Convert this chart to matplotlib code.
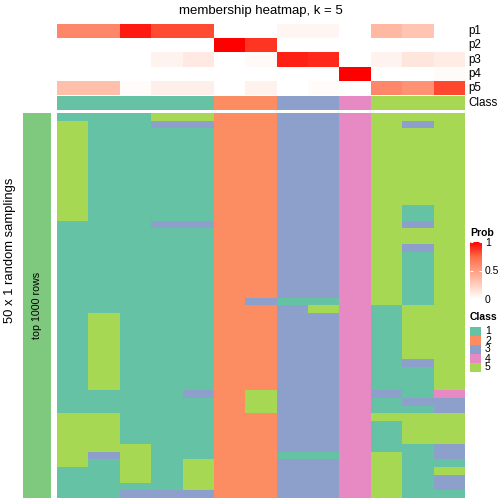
import numpy as np
import matplotlib
matplotlib.use("Agg")
import matplotlib.pyplot as plt
from matplotlib.colors import ListedColormap, LinearSegmentedColormap

plt.rcParams['font.family'] = ['Liberation Sans', 'DejaVu Sans']

# membership probabilities per sample (13 samples)
p1 = [0.60, 0.60, 0.93, 0.82, 0.82, 0.00, 0.00, 0.05, 0.05, 0.00, 0.36, 0.30, 0.00]
p2 = [0.00, 0.00, 0.00, 0.00, 0.00, 1.00, 0.87, 0.00, 0.00, 0.00, 0.00, 0.00, 0.00]
p3 = [0.00, 0.00, 0.00, 0.06, 0.11, 0.00, 0.03, 0.92, 0.90, 0.00, 0.06, 0.13, 0.10]
p4 = [0.00, 0.00, 0.00, 0.00, 0.00, 0.00, 0.00, 0.00, 0.00, 1.00, 0.00, 0.00, 0.02]
p5 = [0.33, 0.33, 0.02, 0.08, 0.08, 0.00, 0.07, 0.00, 0.02, 0.00, 0.60, 0.55, 0.83]
prob_labels = ["p1", "p2", "p3", "p4", "p5"]

# consensus class of each sample
consensus = [1, 1, 1, 1, 1, 2, 2, 3, 3, 4, 5, 5, 5]

# class assigned in each of the 50 random samplings (one string per row)
samplings = [
    "1115522334555",
    "5113322334535",
    "5111122334555", "5111122334555", "5111122334555", "5111122334555", "5111122334555",
    "5111122334555", "5111122334555", "5111122334555", "5111122334555", "5111122334555",
    "5111122334515", "5111122334515",
    "1113322334535",
    "1111122334555", "1111122334555",
    "1111122334535",
    "1111122334515", "1111122334515", "1111122334515", "1111122334515", "1111122334515",
    "1111122334515",
    "1111123114515",
    "1111122354155",
    "1511122334155", "1511122334155", "1511122334155", "1511122334155", "1511122334155",
    "1511122334155",
    "1511122334135",
    "1511122334115", "1511122334115", "1511122334115",
    "1111325334314",
    "1111125334133",
    "1111125334113",
    "5511122334555",
    "5511122334155", "5511122334155", "5511122334155",
    "5551122334113",
    "5351122114513",
    "5151522334511",
    "1151522334515",
    "1151522334513",
    "1111522334513",
    "1133322334511",
]

class_names = ["1", "2", "3", "4", "5"]
class_colors = ["#66C2A5", "#FC8D62", "#8DA0CB", "#E78AC3", "#A6D854"]

W, H = 504, 504
fig = plt.figure(figsize=(W / 100, H / 100), dpi=100)


def px_axes(x0, y0, x1, y1):
    ax = fig.add_axes([x0 / W, 1 - y1 / H, (x1 - x0) / W, (y1 - y0) / H])
    ax.set_xticks([])
    ax.set_yticks([])
    for s in ax.spines.values():
        s.set_visible(False)
    return ax


def px_text(x, y, s, **kw):
    fig.text(x / W, 1 - y / H, s, **kw)


prob_cmap = LinearSegmentedColormap.from_list(
    "prob", [(1, 1, 1), (1, 207 / 255, 190 / 255), (1, 157 / 255, 129 / 255),
             (1, 104 / 255, 70 / 255), (1, 0, 0)])
class_cmap = ListedColormap(class_colors)

x0, x1 = 57, 465

# probability rows
ax_p = px_axes(x0, 24, x1, 95)
ax_p.imshow(np.array([p1, p2, p3, p4, p5]), cmap=prob_cmap, vmin=0, vmax=1,
            aspect='auto', interpolation='nearest')
for i, lab in enumerate(prob_labels):
    px_text(468, 24 + 14.2 * (i + 0.5), lab, fontsize=8.4, va='center', ha='left')

# consensus class row
ax_c = px_axes(x0, 96, x1, 110)
ax_c.imshow(np.array([consensus]), cmap=class_cmap, vmin=0.5, vmax=5.5,
            aspect='auto', interpolation='nearest')
px_text(468, 103, "Class", fontsize=8.4, va='center', ha='left')

# main sampling heatmap
mat = np.array([[int(c) for c in row] for row in samplings])
ax_m = px_axes(x0, 113, x1, 498)
ax_m.imshow(mat, cmap=class_cmap, vmin=0.5, vmax=5.5,
            aspect='auto', interpolation='nearest')

# left annotation bar
ax_l = px_axes(23, 113, 51, 498)
ax_l.set_facecolor("#7FC97F")
ax_l.text(0.5, 0.5, "top 1000 rows", rotation=90, ha='center', va='center',
          fontsize=7.7, transform=ax_l.transAxes)

px_text(261, 11, "membership heatmap, k = 5", fontsize=9.5, ha='center', va='center')
px_text(10, 250, "50 x 1 random samplings", fontsize=9.4, rotation=90,
        ha='center', va='center')

# Prob legend
px_text(470, 233, "Prob", fontsize=7.5, fontweight='bold', ha='left', va='center')
cax = px_axes(470, 242, 482, 299)
sm = plt.cm.ScalarMappable(cmap=prob_cmap, norm=plt.Normalize(0, 1))
cb = fig.colorbar(sm, cax=cax, ticks=[0, 0.5, 1])
cb.outline.set_visible(False)
cb.ax.set_yticklabels(["0", "0.5", "1"])
cb.ax.tick_params(left=True, right=True, labelleft=False, labelright=True,
                  direction='in', color='white', length=2.5, width=0.8,
                  labelsize=7.5, pad=2)

# Class legend
px_text(470, 317, "Class", fontsize=7.5, fontweight='bold', ha='left', va='center')
for i, (name, col) in enumerate(zip(class_names, class_colors)):
    yb = 327 + 9 * i
    box = px_axes(470, yb, 481, yb + 9)
    box.set_facecolor(col)
    px_text(485, yb + 4.5, name, fontsize=7.5, ha='left', va='center')

fig.savefig("out.png", dpi=100)
